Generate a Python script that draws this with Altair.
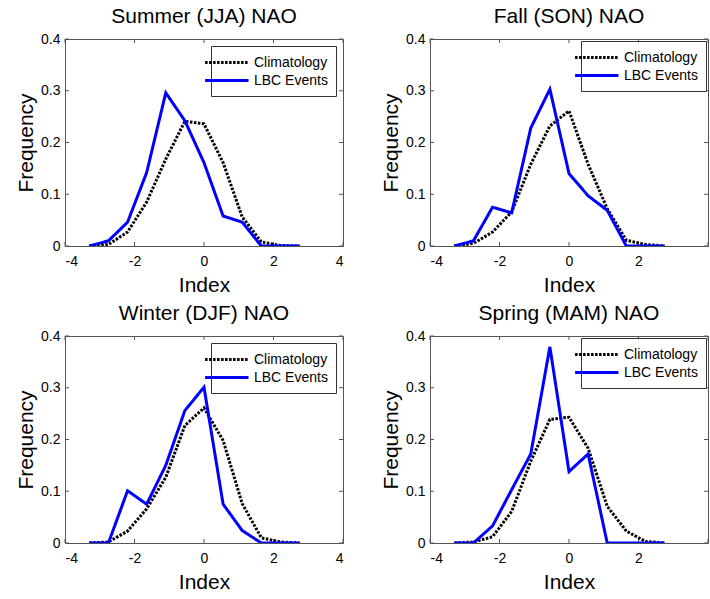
import altair as alt
import pandas as pd

# ---- data ----
index_bins = [-3.3, -2.75, -2.2, -1.65, -1.1, -0.55, 0.0, 0.55, 1.1, 1.65, 2.2, 2.75]
series_names = ["Climatology", "LBC Events"]

summer_clim = [0.0, 0.003, 0.027, 0.085, 0.168, 0.241, 0.236, 0.161, 0.056, 0.008, 0.001, 0.0]
summer_lbc = [0.0, 0.010, 0.046, 0.142, 0.296, 0.242, 0.161, 0.058, 0.046, 0.0, 0.0, 0.0]

fall_clim = [0.0, 0.005, 0.027, 0.066, 0.158, 0.232, 0.261, 0.158, 0.072, 0.011, 0.003, 0.0]
fall_lbc = [0.0, 0.010, 0.075, 0.064, 0.228, 0.303, 0.140, 0.097, 0.069, 0.0, 0.0, 0.0]

winter_clim = [0.0, 0.002, 0.023, 0.066, 0.127, 0.227, 0.261, 0.198, 0.076, 0.010, 0.002, 0.0]
winter_lbc = [0.0, 0.0, 0.101, 0.075, 0.150, 0.256, 0.301, 0.075, 0.024, 0.0, 0.0, 0.0]

spring_clim = [0.0, 0.002, 0.012, 0.061, 0.158, 0.239, 0.243, 0.183, 0.071, 0.023, 0.003, 0.0]
spring_lbc = [0.0, 0.0, 0.033, 0.103, 0.172, 0.379, 0.138, 0.172, 0.0, 0.0, 0.0, 0.0]

x_ticks = [-4, -2, 0, 2, 4]
y_ticks = [0, 0.1, 0.2, 0.3, 0.4]

FONT = "Liberation Sans"
W, H = 278, 207
FRAME = "#555555"
TICK = 4


def panel(title, clim, lbc, x_label_values, legend_offset):
    df = pd.DataFrame({
        "Index": index_bins * 2,
        "Frequency": clim + lbc,
        "Series": [series_names[0]] * len(clim) + [series_names[1]] * len(lbc),
    })
    legend = alt.Legend(
        title=None, orient="top-right", offset=legend_offset,
        fillColor="white", strokeColor="#333333", padding=8,
        symbolType="M-3.2,0H3", symbolSize=196, symbolStrokeWidth=3,
        labelFontSize=14, labelFont=FONT, labelColor="black",
        labelOffset=18, rowPadding=2, cornerRadius=0,
    )
    x_enc = alt.X("Index:Q", scale=alt.Scale(domain=[-4, 4], nice=False, zero=False),
                  axis=alt.Axis(values=x_label_values, labelExpr="'' + datum.value",
                                title="Index", labelPadding=8, titlePadding=6))
    y_enc = alt.Y("Frequency:Q", scale=alt.Scale(domain=[0, 0.4], nice=False),
                  axis=alt.Axis(values=y_ticks, labelExpr="'' + datum.value",
                                title="Frequency", labelPadding=5, titlePadding=4))
    color = alt.Color("Series:N", scale=alt.Scale(domain=series_names, range=["black", "blue"]),
                      legend=legend)
    dash = alt.StrokeDash("Series:N",
                          scale=alt.Scale(domain=series_names, range=[[2.5, 1.5], [1, 0]]),
                          legend=legend)
    base = alt.Chart(df).mark_line(strokeWidth=3, clip=True).encode(
        x=x_enc, y=y_enc, color=color, strokeDash=dash)
    clim_line = base.transform_filter(alt.datum.Series == series_names[0])
    lbc_line = base.transform_filter(alt.datum.Series == series_names[1])

    xt = pd.DataFrame({"Index": x_ticks})
    yt = pd.DataFrame({"Frequency": y_ticks})
    rule = dict(color=FRAME, strokeWidth=1)
    xb = alt.Chart(xt).mark_rule(**rule).encode(x="Index:Q", y=alt.value(H), y2=alt.value(H - TICK))
    xtop = alt.Chart(xt).mark_rule(**rule).encode(x="Index:Q", y=alt.value(0), y2=alt.value(TICK))
    yl = alt.Chart(yt).mark_rule(**rule).encode(y="Frequency:Q", x=alt.value(0), x2=alt.value(TICK))
    yr = alt.Chart(yt).mark_rule(**rule).encode(y="Frequency:Q", x=alt.value(W), x2=alt.value(W - TICK))

    return alt.layer(xb, xtop, yl, yr, clim_line, lbc_line).properties(
        width=W, height=H,
        title=alt.Title(title, fontSize=21, fontWeight="normal", font=FONT, color="black", offset=5),
    )


p1 = panel("Summer (JJA) NAO", summer_clim, summer_lbc, x_ticks, 7)
p2 = panel("Fall (SON) NAO", fall_clim, fall_lbc, x_ticks[:-1], 2)
p3 = panel("Winter (DJF) NAO", winter_clim, winter_lbc, x_ticks, 7)
p4 = panel("Spring (MAM) NAO", spring_clim, spring_lbc, x_ticks[:-1], 2)

chart = alt.concat(
    p1, p2, p3, p4, columns=2, spacing={"row": 90, "column": 87}, bounds="flush"
).resolve_scale(
    color="independent", strokeDash="independent"
).properties(
    padding={"left": 15, "top": 5, "right": 0, "bottom": 0}, background="white"
).configure_axis(
    labelFont=FONT, titleFont=FONT, labelFontSize=14, titleFontSize=21,
    titleFontWeight="normal", labelColor="black", titleColor="black",
    grid=False, ticks=False, domainColor=FRAME, domainWidth=1,
).configure_view(stroke=FRAME, strokeWidth=1)

chart.save("out.html", embed_options={"renderer": "svg", "actions": False})
